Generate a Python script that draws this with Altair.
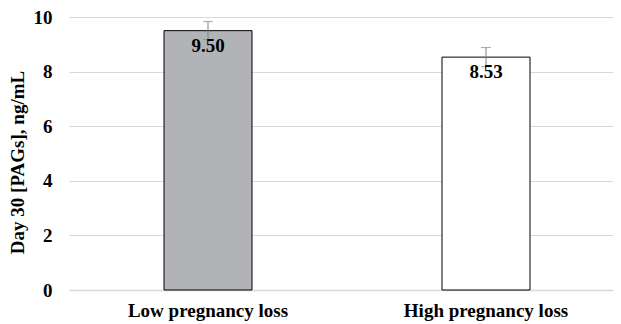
import altair as alt
import pandas as pd

groups = ["Low pregnancy loss", "High pregnancy loss"]
means = [9.50, 8.53]
errors = [0.33, 0.35]
labels = ["9.50", "8.53"]
fills = ["#b2b3b6", "#ffffff"]

df = pd.DataFrame({
    "group": groups,
    "mean": means,
    "lo": [m - e for m, e in zip(means, errors)],
    "hi": [m + e for m, e in zip(means, errors)],
    "label": labels,
    "fill": fills,
})

FONT = "Liberation Serif"
FS = 19
TITLE = "Day 30 [PAGs], ng/mL"

xscale = alt.Scale(domain=groups, paddingInner=0.0, paddingOuter=0.0, range=[0, 556])
xaxis = alt.Axis(labelAngle=0, labelFont=FONT, labelFontSize=FS, labelFontWeight="bold",
                 labelColor="#000000", ticks=False, domain=True, domainColor="#d9d9d9",
                 domainWidth=1.5, labelPadding=11, grid=False)
yscale = alt.Scale(domain=[0, 10], nice=False)
yaxis = alt.Axis(values=[0, 2, 4, 6, 8, 10], labelFont=FONT, labelFontSize=FS,
                 labelFontWeight="bold", labelColor="#000000", ticks=False, domain=False,
                 gridColor="#d9d9d9", gridWidth=1, labelPadding=17,
                 titleFont=FONT, titleFontSize=FS, titleFontWeight="bold",
                 titleColor="#000000", titlePadding=6, titleY=145)

base = alt.Chart(df)

bars = base.mark_bar(size=88, stroke="#000000", strokeWidth=1).encode(
    x=alt.X("group:N", sort=groups, title=None, scale=xscale, axis=xaxis),
    y=alt.Y("mean:Q", title=TITLE, scale=yscale, axis=yaxis),
    fill=alt.Fill("fill:N", scale=None),
)

err = base.mark_errorbar(ticks=alt.MarkConfig(size=10), color="#7f7f7f", thickness=1).encode(
    x=alt.X("group:N", sort=groups, title=None, scale=xscale, axis=xaxis),
    y=alt.Y("lo:Q", title=TITLE, scale=yscale, axis=yaxis),
    y2="hi:Q",
)

text = base.mark_text(font=FONT, fontSize=FS, fontWeight="bold", baseline="top", dy=6,
                      color="#000000").encode(
    x=alt.X("group:N", sort=groups, title=None, scale=xscale, axis=xaxis),
    y=alt.Y("mean:Q", title=TITLE, scale=yscale, axis=yaxis),
    text="label:N",
)

chart = (bars + err + text).properties(
    width=544, height=273,
    autosize=alt.AutoSizeParams(type="none"),
    padding={"left": 61, "top": 9, "right": 0, "bottom": 34},
    background="#ffffff",
    view=alt.ViewBackground(stroke="transparent", strokeWidth=0),
).configure_view(strokeWidth=0, stroke="transparent").configure_axisBand(grid=False)

chart.save("out.html", embed_options={"renderer": "svg", "actions": False})
